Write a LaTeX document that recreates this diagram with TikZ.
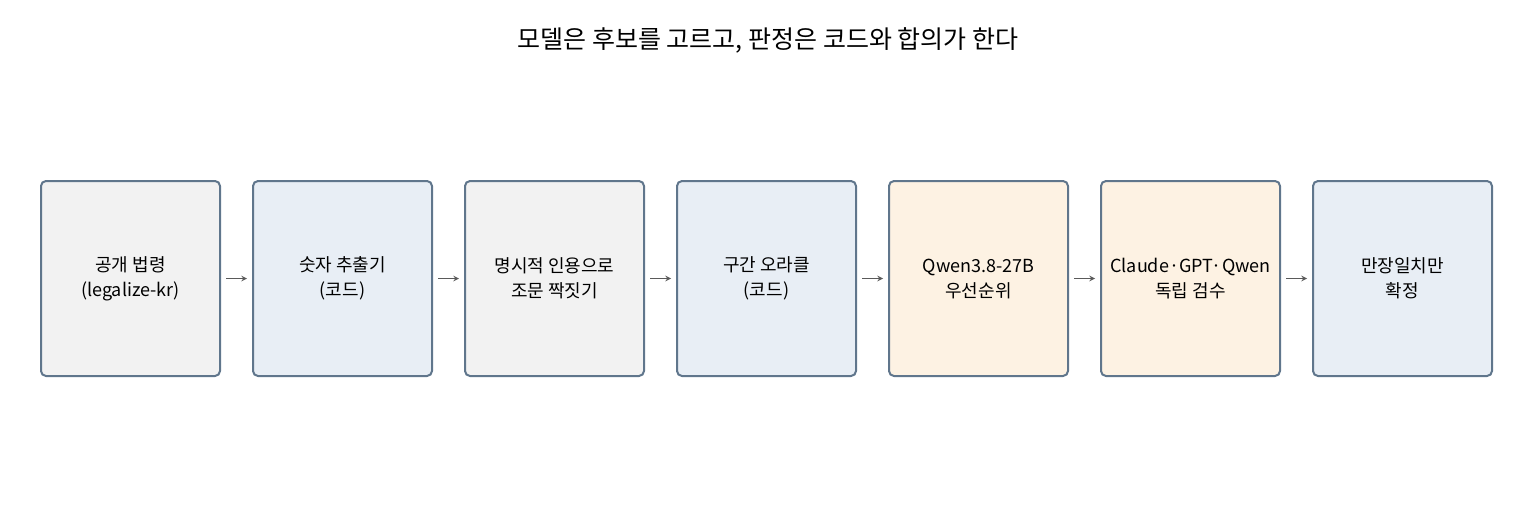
\documentclass[tikz,border=0pt]{standalone}
\usepackage{fontspec}
\setmainfont{Noto Sans CJK KR}
\usetikzlibrary{positioning}
\definecolor{edgeblue}{RGB}{96,118,140}
\definecolor{fillgray}{RGB}{242,242,242}
\definecolor{fillblue}{RGB}{232,238,245}
\definecolor{fillcream}{RGB}{253,242,227}
\definecolor{arrowgray}{RGB}{90,90,90}
\tikzset{every picture/.style={line width=0.75pt}}

\begin{document}
\begin{tikzpicture}[x=1pt,y=1pt,yscale=-1,
  stage/.style={draw=edgeblue,line width=2pt,rounded corners=5pt,minimum width=179pt,minimum height=195pt,align=center,font=\fontsize{18}{25}\selectfont,inner sep=0pt},
  link/.style={->,>=stealth,draw=arrowgray,line width=1.5pt,shorten >=1pt,shorten <=1pt},
  node distance=31pt]
\useasboundingbox (0,0) rectangle (1536,506);

% Title
\node (title) at (768,40) {\fontsize{25}{30}\selectfont 모델은 후보를 고르고, 판정은 코드와 합의가 한다};

% Stages
\node[stage,fill=fillgray] (law) at (130.5,278.5) {공개 법령\\(legalize-kr)};
\node[stage,fill=fillblue,right=of law] (extract) {숫자 추출기\\(코드)};
\node[stage,fill=fillgray,right=of extract] (pair) {명시적 인용으로\\조문 짝짓기};
\node[stage,fill=fillblue,right=of pair] (oracle) {구간 오라클\\(코드)};
\node[stage,fill=fillcream,right=of oracle] (rank) {Qwen3.8-27B\\우선순위};
\node[stage,fill=fillcream,right=of rank] (review) {Claude·GPT·Qwen\\독립 검수};
\node[stage,fill=fillblue,right=of review] (agree) {만장일치만\\확정};

% Links
\foreach \a/\b in {law/extract,extract/pair,pair/oracle,oracle/rank,rank/review,review/agree}
  \draw[link] ([xshift=4pt]\a.east) -- ([xshift=-4pt]\b.west);
\end{tikzpicture}
\end{document}
